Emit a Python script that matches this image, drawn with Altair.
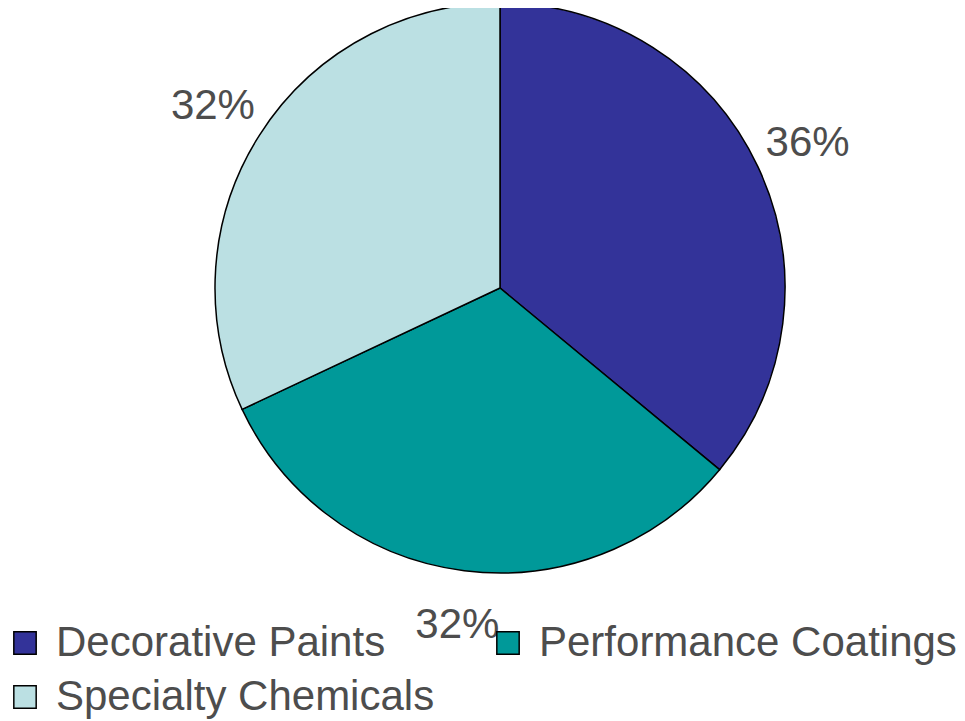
import altair as alt
import pandas as pd

categories = ["Decorative Paints", "Performance Coatings", "Specialty Chemicals"]
shares = [36, 32, 32]
labels = ["36%", "32%", "32%"]
order = [1, 2, 3]
colors = ["#333399", "#009999", "#BBE0E3"]

df = pd.DataFrame({"category": categories, "share": shares, "label": labels, "order": order})

cx, cy = 492, 280

base = alt.Chart(df).encode(
    theta=alt.Theta("share:Q", stack=True),
    order=alt.Order("order:Q"),
)

pie = base.mark_arc(outerRadius=285, stroke="black", strokeWidth=1.5).encode(
    x=alt.value(cx),
    y=alt.value(cy),
    color=alt.Color(
        "category:N",
        scale=alt.Scale(domain=categories, range=colors),
        sort=categories,
        legend=alt.Legend(
            title=None,
            orient="none",
            legendX=-4,
            legendY=614,
            direction="horizontal",
            columns=2,
            columnPadding=52,
            rowPadding=12,
            padding=0,
            symbolType="square",
            symbolSize=500,
            symbolStrokeColor="black",
            symbolStrokeWidth=1.5,
            labelFont="Liberation Sans",
            labelFontSize=42,
            labelColor="#4d4d4d",
            labelOffset=10,
            labelLimit=0,
        ),
    ),
)

text = base.mark_text(
    font="Liberation Sans", fontSize=42, color="#4d4d4d", align="center", baseline="middle"
).encode(
    x=alt.value(cx),
    y=alt.value(cy),
    radius=alt.value(340),
    text="label:N",
)

chart = (
    alt.layer(pie, text)
    .properties(width=949, height=713, autosize=alt.AutoSizeParams(type="none"), padding=0)
    .configure_view(stroke=None)
)

chart.save("out.html", embed_options={"renderer": "svg", "actions": False})
